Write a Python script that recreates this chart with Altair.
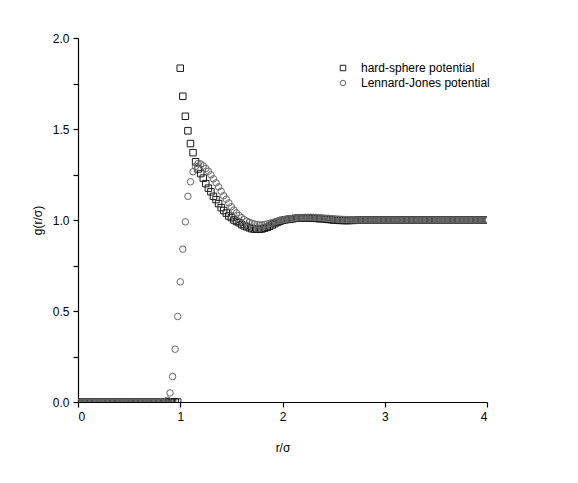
import altair as alt
import pandas as pd

# ---- data ----
hs_r = [0.0, 0.025, 0.05, 0.075, 0.1, 0.125, 0.15, 0.175, 0.2, 0.225, 0.25, 0.275, 0.3, 0.325, 0.35, 0.375,
        0.4, 0.425, 0.45, 0.475, 0.5, 0.525, 0.55, 0.575, 0.6, 0.625, 0.65, 0.675, 0.7, 0.725, 0.75, 0.775,
        0.8, 0.825, 0.85, 0.875, 0.9, 0.925, 0.95, 0.975,
        1.0, 1.025, 1.05, 1.075, 1.1, 1.125, 1.15, 1.175, 1.2, 1.225, 1.25, 1.275, 1.3, 1.325, 1.35, 1.375,
        1.4, 1.425, 1.45, 1.475, 1.5, 1.525, 1.55, 1.575, 1.6, 1.625, 1.65, 1.675, 1.7, 1.725, 1.75, 1.775,
        1.8, 1.825, 1.85, 1.875, 1.9, 1.925, 1.95, 1.975, 2.0, 2.025, 2.05, 2.075, 2.1, 2.125, 2.15, 2.175,
        2.2, 2.225, 2.25, 2.275, 2.3, 2.325, 2.35, 2.375, 2.4, 2.425, 2.45, 2.475, 2.5, 2.525, 2.55, 2.575,
        2.6, 2.625, 2.65, 2.675, 2.7, 2.725, 2.75, 2.775, 2.8, 2.825, 2.85, 2.875, 2.9, 2.925, 2.95, 2.975,
        3.0, 3.025, 3.05, 3.075, 3.1, 3.125, 3.15, 3.175, 3.2, 3.225, 3.25, 3.275, 3.3, 3.325, 3.35, 3.375,
        3.4, 3.425, 3.45, 3.475, 3.5, 3.525, 3.55, 3.575, 3.6, 3.625, 3.65, 3.675, 3.7, 3.725, 3.75, 3.775,
        3.8, 3.825, 3.85, 3.875, 3.9, 3.925, 3.95, 3.975, 4.0]
hs_g = [0, 0, 0, 0, 0, 0, 0, 0, 0, 0, 0, 0, 0, 0, 0, 0,
        0, 0, 0, 0, 0, 0, 0, 0, 0, 0, 0, 0, 0, 0, 0, 0,
        0, 0, 0, 0, 0, 0, 0, 0,
        1.834, 1.68, 1.57, 1.49, 1.42, 1.37, 1.32, 1.28, 1.255, 1.23, 1.2, 1.175, 1.155, 1.13, 1.112, 1.09,
        1.068, 1.052, 1.038, 1.022, 1.013, 1.0, 0.992, 0.985, 0.975, 0.968, 0.963, 0.957, 0.952, 0.95, 0.949, 0.949,
        0.951, 0.955, 0.96, 0.966, 0.973, 0.98, 0.987, 0.993, 0.998, 1.001, 1.003, 1.005, 1.007, 1.009, 1.01, 1.011,
        1.011, 1.011, 1.011, 1.01, 1.01, 1.009, 1.008, 1.007, 1.006, 1.004, 1.003, 1.002, 1.0, 0.999, 0.998, 0.998,
        0.997, 0.997, 0.997, 0.998, 0.998, 0.999, 0.999, 1.0, 1.0, 1.0, 1.0, 1.0, 1.0, 1.0, 1.0, 1.0,
        1.0, 1.0, 1.0, 1.0, 1.0, 1.0, 1.0, 1.0, 1.0, 1.0, 1.0, 1.0, 1.0, 1.0, 1.0, 1.0,
        1.0, 1.0, 1.0, 1.0, 1.0, 1.0, 1.0, 1.0, 1.0, 1.0, 1.0, 1.0, 1.0, 1.0, 1.0, 1.0,
        1.0, 1.0, 1.0, 1.0, 1.0, 1.0, 1.0, 1.0, 1.0]

lj_r = hs_r
lj_g = [0, 0, 0, 0, 0, 0, 0, 0, 0, 0, 0, 0, 0, 0, 0, 0,
        0, 0, 0, 0, 0, 0, 0, 0, 0, 0, 0, 0, 0, 0, 0, 0,
        0, 0, 0, 0.01, 0.05, 0.14, 0.29, 0.47,
        0.66, 0.84, 0.99, 1.13, 1.21, 1.265, 1.295, 1.31, 1.308, 1.297, 1.283, 1.268, 1.248, 1.226, 1.204, 1.182,
        1.158, 1.133, 1.114, 1.094, 1.073, 1.055, 1.039, 1.025, 1.013, 1.002, 0.994, 0.987, 0.982, 0.978, 0.975, 0.973,
        0.973, 0.975, 0.978, 0.982, 0.986, 0.99, 0.994, 0.997, 1.0, 1.003, 1.005, 1.007, 1.009, 1.011, 1.012, 1.013,
        1.014, 1.015, 1.015, 1.015, 1.015, 1.014, 1.013, 1.012, 1.011, 1.01, 1.009, 1.008, 1.007, 1.006, 1.005, 1.004,
        1.003, 1.002, 1.002, 1.001, 1.001, 1.0, 1.0, 1.0, 1.0, 1.0, 1.0, 1.0, 1.0, 1.0, 1.0, 1.0,
        1.0, 1.0, 1.0, 1.0, 1.0, 1.0, 1.0, 1.0, 1.0, 1.0, 1.0, 1.0, 1.0, 1.0, 1.0, 1.0,
        1.0, 1.0, 1.0, 1.0, 1.0, 1.0, 1.0, 1.0, 1.0, 1.0, 1.0, 1.0, 1.0, 1.0, 1.0, 1.0,
        1.0, 1.0, 1.0, 1.0, 1.0, 1.0, 1.0, 1.0, 1.0]

series = ["hard-sphere potential", "Lennard-Jones potential"]
shapes = ["square", "circle"]
colors = ["#1a1a1a", "#666666"]

x_ticks = [0, 0.5, 1, 1.5, 2, 2.5, 3, 3.5, 4]
y_ticks = [0, 0.25, 0.5, 0.75, 1.0, 1.25, 1.5, 1.75, 2.0]

df = pd.concat([
    pd.DataFrame({"r": hs_r, "g": hs_g, "series": series[0], "order": 0}),
    pd.DataFrame({"r": lj_r, "g": lj_g, "series": series[1], "order": 1}),
])

FONT = "Liberation Sans"
axis_style = dict(
    grid=False, domainColor="black", domainWidth=1.2, tickColor="black", tickSize=5, tickWidth=1.2,
    labelFont=FONT, labelFontSize=12, labelColor="black", labelPadding=4,
    titleFont=FONT, titleFontSize=12, titleFontWeight="normal", titleColor="black",
)

chart = alt.Chart(df).mark_point(filled=False, size=42, strokeWidth=1, clip=True, opacity=1).encode(
    x=alt.X("r:Q", scale=alt.Scale(domain=[0, 4], nice=False),
            axis=alt.Axis(title="r/σ", values=x_ticks,
                          labelExpr="datum.value % 1 == 0 ? datum.label : ''",
                          format="d", titlePadding=20, **axis_style)),
    y=alt.Y("g:Q", scale=alt.Scale(domain=[0, 2], nice=False),
            axis=alt.Axis(title="g(r/σ)", values=y_ticks,
                          labelExpr="(datum.value * 2) % 1 == 0 ? format(datum.value, '.1f') : ''",
                          titlePadding=8, **axis_style)),
    shape=alt.Shape("series:N", scale=alt.Scale(domain=series, range=shapes),
                    legend=alt.Legend(title=None, orient="none", legendX=259, legendY=24,
                                      labelFont=FONT, labelFontSize=12, labelColor="black",
                                      symbolSize=30, symbolStrokeWidth=1, rowPadding=3,
                                      labelOffset=12, padding=0)),
    stroke=alt.Stroke("series:N", scale=alt.Scale(domain=series, range=colors)),
    order=alt.Order("order:Q"),
).properties(
    width=409, height=364, background="white",
    padding={"left": 23, "top": 24, "right": 5, "bottom": 5},
).configure_view(
    stroke=None
)

chart.save("out.html", embed_options={"renderer": "svg", "actions": False})
